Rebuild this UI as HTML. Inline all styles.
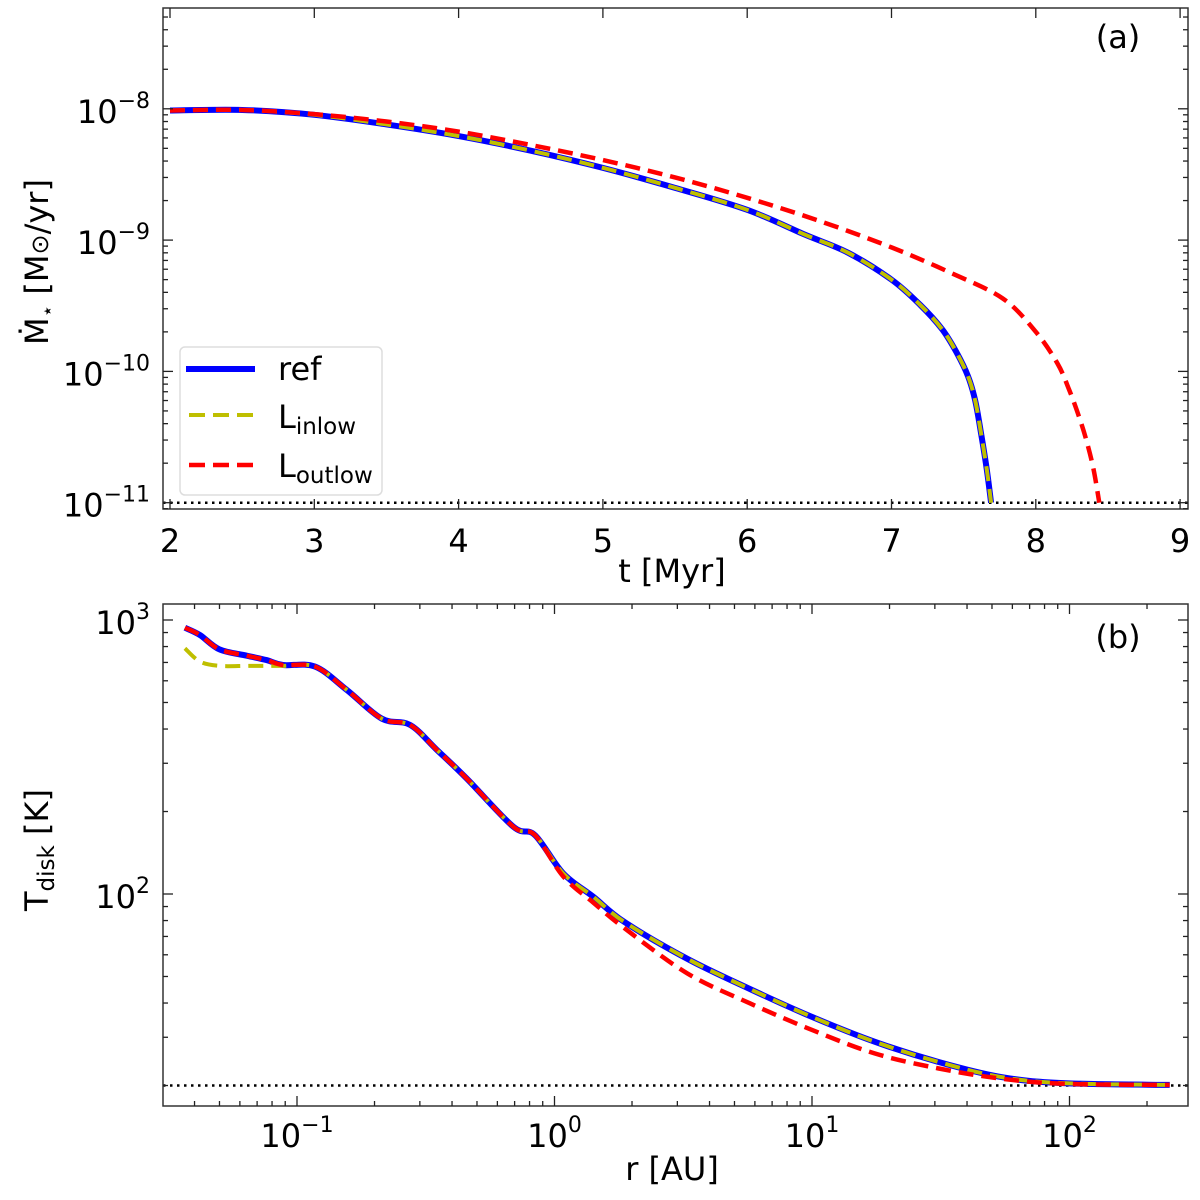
<!DOCTYPE html>
<html><head><meta charset="utf-8">
<style>
html,body{margin:0;padding:0;background:#fff;}
svg{display:block;font-family:"DejaVu Sans","Liberation Sans",sans-serif;}
</style></head>
<body>
<svg id="fig" width="1200" height="1200" viewBox="0 0 1200 1200" xmlns="http://www.w3.org/2000/svg">
<rect x="0" y="0" width="1200" height="1200" fill="#fff"/>
<g id="pa"></g>
<g id="pb"></g>
</svg>
<script>
// ---- Panel (a) data ----
const aRefT = [2.0,2.5,3.0,3.5,4.0,4.5,5.0,5.5,6.0,6.4,6.7,7.0,7.2,7.35,7.45,7.53,7.58,7.62,7.66,7.69];
const aRefV = [9.7e-9,9.8e-9,9.0e-9,7.6e-9,6.2e-9,4.8e-9,3.55e-9,2.5e-9,1.7e-9,1.1e-9,8.0e-10,5.0e-10,3.2e-10,2.1e-10,1.4e-10,9.2e-11,6e-11,3.4e-11,1.8e-11,1e-11];
const aInT = [2.0,2.5,3.0,3.5,4.0,4.5,5.0,5.5,6.0,6.4,6.7,7.0,7.2,7.35,7.45,7.53,7.58,7.62,7.66,7.69];
const aInV = [9.7e-9,9.8e-9,9.0e-9,7.6e-9,6.2e-9,4.8e-9,3.55e-9,2.5e-9,1.7e-9,1.1e-9,8.0e-10,5.0e-10,3.2e-10,2.1e-10,1.4e-10,9.2e-11,6e-11,3.4e-11,1.8e-11,1e-11];
const aOutT = [2.0,2.5,3.0,3.5,4.0,4.5,5.0,5.5,6.0,6.5,7.0,7.4,7.77,8.0,8.15,8.23,8.3,8.35,8.4,8.44];
const aOutV = [9.7e-9,9.8e-9,9.1e-9,8.0e-9,6.7e-9,5.3e-9,4.07e-9,3.0e-9,2.1e-9,1.4e-9,8.8e-10,5.7e-10,3.6e-10,2.0e-10,1.15e-10,7.3e-11,4.5e-11,3.0e-11,1.8e-11,1e-11];
const aXTicks = [2,3,4,5,6,7,8,9];
const aYTickExp = [-8,-9,-10,-11];
const aFloor = 1e-11;
// ---- Panel (b) data ----
const bR = [0.0367,0.042,0.05,0.0638,0.0762,0.0883,0.1175,0.156,0.213,0.275,0.349,0.456,0.692,0.84,1.08,1.415,1.87,3.28,5.74,10,17.5,30.9,54,94.4,245];
const bRefT = [937,881,781,741,714,685,676,556,437,414,336,264,176,164,119,97.7,79,58,45,35.6,28.9,24.4,21.5,20.4,20.1];
const bInT  = [788,705,680,680,680,680,676,556,437,414,336,264,176,164,119,97.7,79,58,45,35.6,28.9,24.4,21.5,20.4,20.1];
const bOutT = [937,881,781,741,714,685,676,556,437,414,336,264,176,164,116,93,75,51.3,39.9,31.9,26.2,23.1,21.2,20.3,20.1];
const bXTickExp = [-1,0,1,2];
const bYTickExp = [3,2];
const bFloor = 20;

const NS = "http://www.w3.org/2000/svg";
function mk(tag, parent){ const e=document.createElementNS(NS,tag); parent.appendChild(e); return e; }

// axes geometry
const A = {l:163,r:1188,t:8,b:509};
const B = {l:163,r:1188,t:604,b:1106};
function axA(t){ return 170 + (t-2)*144.3; }
function ayA(v){ return 108.8 + (-8 - Math.log10(v))*131.3; }
function axB(r){ return 297 + (Math.log10(r)+1)*257.5; }
function ayB(T){ return 620 + (3 - Math.log10(T))*274; }

function smoothPath(pts){
  let d = "M"+pts[0][0].toFixed(2)+","+pts[0][1].toFixed(2);
  for(let i=0;i<pts.length-1;i++){
    const p0=pts[Math.max(0,i-1)], p1=pts[i], p2=pts[i+1], p3=pts[Math.min(pts.length-1,i+2)];
    const c1=[p1[0]+(p2[0]-p0[0])/6, p1[1]+(p2[1]-p0[1])/6];
    const c2=[p2[0]-(p3[0]-p1[0])/6, p2[1]-(p3[1]-p1[1])/6];
    d+=" C"+c1[0].toFixed(2)+","+c1[1].toFixed(2)+" "+c2[0].toFixed(2)+","+c2[1].toFixed(2)+" "+p2[0].toFixed(2)+","+p2[1].toFixed(2);
  }
  return d;
}
function series(g, xs, ys, fx, fy, color, width, dash, name){
  const p = mk("path", g);
  
  
  p.setAttribute("d", smoothPath(xs.map((x,i)=>[fx(x), fy(ys[i])])));
  p.setAttribute("fill","none"); p.setAttribute("stroke",color); p.setAttribute("stroke-width",width);
  if(dash) p.setAttribute("stroke-dasharray",dash);
}
function line(g,x1,y1,x2,y2,w,color,name){
  const l=mk("line",g); l.setAttribute("x1",x1); l.setAttribute("y1",y1); l.setAttribute("x2",x2); l.setAttribute("y2",y2);
  l.setAttribute("stroke",color||"#222"); l.setAttribute("stroke-width",w||1.3);
  
  
  return l;
}
function powLabel(g, x, y, exp, anchor, name){
  const t=mk("text",g); t.setAttribute("x",x); t.setAttribute("y",y); t.setAttribute("font-size","32"); t.setAttribute("text-anchor",anchor);
  
  
  t.textContent="10";
  const s=mk("tspan",t); s.setAttribute("font-size","22"); s.setAttribute("dy","-15");
  s.textContent=(exp<0?"\u2212"+(-exp):String(exp));
  return t;
}
function text(g,x,y,str,size,anchor,name){
  const t=mk("text",g); t.setAttribute("x",x); t.setAttribute("y",y); t.setAttribute("font-size",size); t.setAttribute("text-anchor",anchor||"middle");
  
  
  t.textContent=str; return t;
}

// ================= Panel A =================
const ga=document.getElementById("pa");
// dotted floor
line(ga, A.l, ayA(aFloor), A.r, ayA(aFloor), 2.5, "#000", "floor-line-a").setAttribute("stroke-dasharray","2.5,4.5");
series(ga, aRefT, aRefV, axA, ayA, "#0000ff", 6, null, "series-ref-a");
series(ga, aInT, aInV, axA, ayA, "#bfbf00", 4, "15,8", "series-linlow-a");
series(ga, aOutT, aOutV, axA, ayA, "#ff0000", 4.5, "15,8", "series-loutlow-a");
// frame
const fa=mk("rect",ga); fa.setAttribute("x",A.l); fa.setAttribute("y",A.t); fa.setAttribute("width",A.r-A.l); fa.setAttribute("height",A.b-A.t);
fa.setAttribute("fill","none"); fa.setAttribute("stroke","#333"); fa.setAttribute("stroke-width","1.5");


aXTicks.forEach(t=>{
  const x=axA(t);
  line(ga,x,A.b,x,A.b-10,1.3,"#222","x-tick-a");
  line(ga,x,A.t,x,A.t+10,1.3,"#222","x-tick-top-a");
  text(ga,x,552,String(t),32,"middle","x-tick-label-a");
});
for(let e=-12;e<=-7;e++){
  for(let m=1;m<10;m++){
    const v=m*Math.pow(10,e); const y=ayA(v);
    if(y<A.t||y>A.b) continue;
    const len = m===1?10:5;
    line(ga,A.l,y,A.l+len,y,1.3,"#222","y-tick-a");
    line(ga,A.r,y,A.r-len,y,1.3,"#222","y-tick-right-a");
  }
}
aYTickExp.forEach(e=>{ powLabel(ga,150,ayA(Math.pow(10,e))+14,e,"end","y-tick-label-a"); });
text(ga,672,582,"t [Myr]",32,"middle","x-axis-title-a");
// y title
const yta=mk("text",ga); yta.setAttribute("transform","translate(48,262) rotate(-90)"); yta.setAttribute("font-size","32"); yta.setAttribute("text-anchor","middle");


yta.innerHTML='M\u0307<tspan font-size="20" dy="6">\u22c6</tspan><tspan dy="-6"> [M</tspan><tspan font-size="24">\u2299</tspan>/yr]';
text(ga,1118,48,"(a)",32,"middle","panel-label-a");
// legend
const lg=mk("g",ga);  
const lb=mk("rect",lg); lb.setAttribute("x",180); lb.setAttribute("y",347); lb.setAttribute("width",202); lb.setAttribute("height",148); lb.setAttribute("rx",5);
lb.setAttribute("fill","#fff"); lb.setAttribute("fill-opacity","0.8"); lb.setAttribute("stroke","#ddd"); lb.setAttribute("stroke-width","1.5");
 
line(lg,186,369,255,369,6,"#0000ff","legend-swatch-ref");
line(lg,189,415,253,415,4,"#bfbf00","legend-swatch-linlow").setAttribute("stroke-dasharray","16,8");
line(lg,189,465,253,465,4.5,"#ff0000","legend-swatch-loutlow").setAttribute("stroke-dasharray","16,8");
text(lg,278,380,"ref",32,"start","legend-entry-ref");
const l1=text(lg,278,428,"L",32,"start","legend-entry-linlow");
const s1=mk("tspan",l1); s1.setAttribute("font-size","23"); s1.setAttribute("dy","6"); s1.textContent="inlow";
const l2=text(lg,278,477,"L",32,"start","legend-entry-loutlow");
const s2=mk("tspan",l2); s2.setAttribute("font-size","23"); s2.setAttribute("dy","6"); s2.textContent="outlow";

// ================= Panel B =================
const gb=document.getElementById("pb");
line(gb, B.l, ayB(bFloor), B.r, ayB(bFloor), 2.5, "#000", "floor-line-b").setAttribute("stroke-dasharray","2.5,4.5");
series(gb, bR, bRefT, axB, ayB, "#0000ff", 6, null, "series-ref-b");
series(gb, bR, bInT, axB, ayB, "#bfbf00", 4, "15,8", "series-linlow-b");
series(gb, bR, bOutT, axB, ayB, "#ff0000", 4.5, "15,8", "series-loutlow-b");
const fb=mk("rect",gb); fb.setAttribute("x",B.l); fb.setAttribute("y",B.t); fb.setAttribute("width",B.r-B.l); fb.setAttribute("height",B.b-B.t);
fb.setAttribute("fill","none"); fb.setAttribute("stroke","#333"); fb.setAttribute("stroke-width","1.5");


for(let e=-2;e<=2;e++){
  for(let m=1;m<10;m++){
    const r=m*Math.pow(10,e); const x=axB(r);
    if(x<B.l||x>B.r) continue;
    const len=m===1?10:5;
    line(gb,x,B.b,x,B.b-len,1.3,"#222","x-tick-b");
    line(gb,x,B.t,x,B.t+len,1.3,"#222","x-tick-top-b");
  }
}
bXTickExp.forEach(e=>{ powLabel(gb,axB(Math.pow(10,e)),1147,e,"middle","x-tick-label-b"); });
for(let e=1;e<=3;e++){
  for(let m=1;m<10;m++){
    const T=m*Math.pow(10,e); const y=ayB(T);
    if(y<B.t||y>B.b) continue;
    const len=m===1?10:5;
    line(gb,B.l,y,B.l+len,y,1.3,"#222","y-tick-b");
    line(gb,B.r,y,B.r-len,y,1.3,"#222","y-tick-right-b");
  }
}
bYTickExp.forEach(e=>{ powLabel(gb,150,ayB(Math.pow(10,e))+14,e,"end","y-tick-label-b"); });
text(gb,672,1180,"r [AU]",32,"middle","x-axis-title-b");
const ytb=mk("text",gb); ytb.setAttribute("transform","translate(48,850) rotate(-90)"); ytb.setAttribute("font-size","32"); ytb.setAttribute("text-anchor","middle");


ytb.innerHTML='T<tspan font-size="23" dy="6">disk</tspan><tspan dy="-6"> [K]</tspan>';
text(gb,1118,648,"(b)",32,"middle","panel-label-b");
</script>
</body></html>
